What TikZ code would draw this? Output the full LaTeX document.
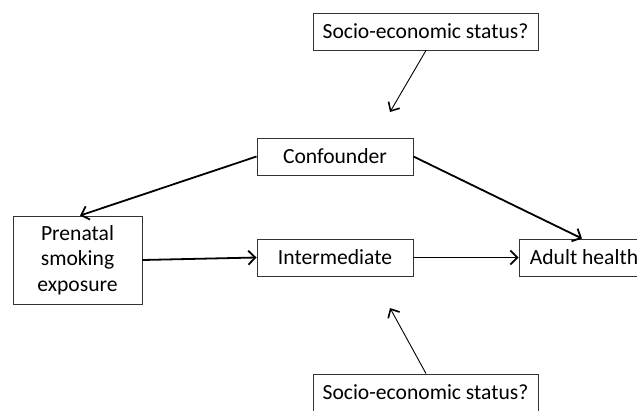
\documentclass[tikz,border=0pt]{standalone}
\usepackage{fontspec}
\setmainfont{Carlito}
\usepackage{tikz}
\usetikzlibrary{arrows.meta}

\begin{document}
\begin{tikzpicture}[x=1pt, y=-1pt,
    box/.style={draw=black!80, line width=0.9pt, inner sep=0pt, minimum height=37pt, align=center,
        font=\fontsize{21.6}{25.5}\selectfont},
    causal/.style={-{Straight Barb[length=7pt, width=14pt, line width=1.8pt]}, line width=1.8pt},
    weak/.style={-{Straight Barb[length=7pt, width=13pt, line width=1.6pt]}, line width=0.9pt}]
    \useasboundingbox (0,0) rectangle (637,410);

    % Boxes
    \node[box, minimum width=225pt] (sestop) at (425.5,31.5) {Socio-economic status?};
    \node[box, minimum width=156pt] (conf) at (335,156.5) {Confounder};
    \node[box, minimum width=156pt] (inter) at (335,257.5) {Intermediate};
    \node[box, minimum width=129pt, minimum height=88pt] (prenatal) at (77.5,260) {Prenatal\\smoking\\exposure};
    \node[box, minimum width=130pt] (adult) at (584,257.5) {Adult health};
    \node[box, minimum width=225pt] (sesbot) at (425.5,392.5) {Socio-economic status?};

    % Free ends of the SES arrows
    \coordinate (sestip) at (390,112);
    \coordinate (sesbtip) at (390,308);

    % Paths
    \draw[causal] (conf.west) -- ([xshift=2.5pt]prenatal.north);
    \draw[causal] (conf.east) -- ([xshift=-2pt]adult.north);
    \draw[causal] (prenatal.east) -- (inter.west);
    \draw[causal] (inter.east) -- (adult.west);

    % Possible confounding by SES
    \draw[weak] ([xshift=0.5pt]sestop.south) -- (sestip);
    \draw[weak] ([xshift=0.5pt]sesbot.north) -- (sesbtip);
\end{tikzpicture}
\end{document}
